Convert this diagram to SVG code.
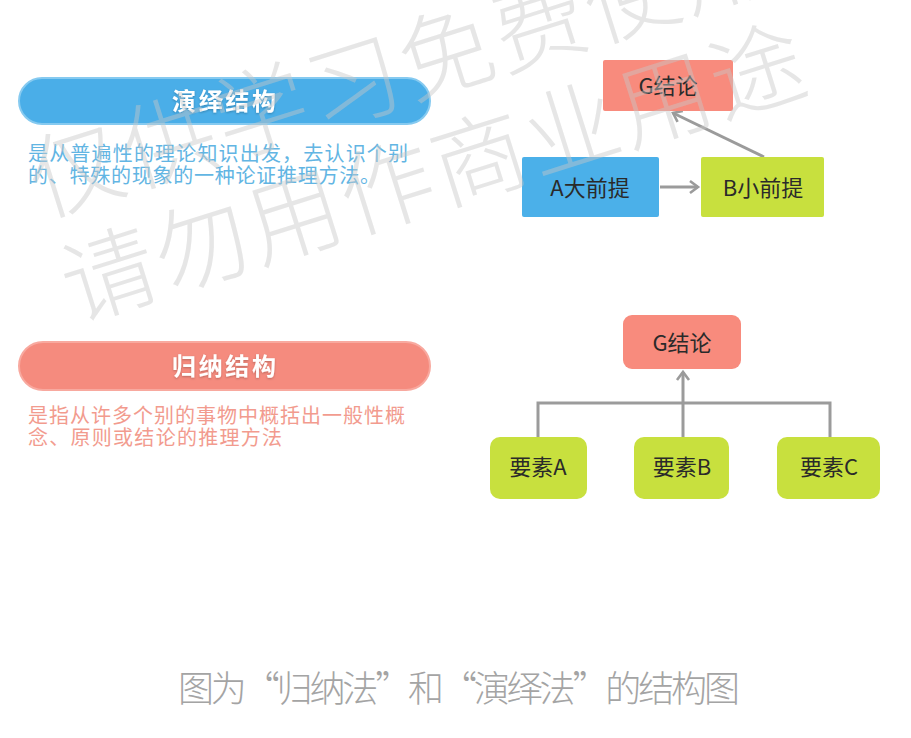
<svg xmlns="http://www.w3.org/2000/svg" width="911" height="738" viewBox="0 0 911 738">
  <defs>
    <style>
      .cjk { font-family: "Noto Sans CJK SC", "Noto Sans", "Liberation Sans", sans-serif; }
      .pill-text { font-size: 24px; font-weight: bold; fill: #ffffff; text-anchor: middle; }
      .desc { font-size: 20px; }
      .node-text { font-size: 22px; fill: #2a2a2a; text-anchor: middle; }
      .conn { fill: none; stroke: #9b9b9b; stroke-width: 3; }
      .blue { fill: #4bb0e9; }
      .salmon { fill: #f88b7d; }
      .green { fill: #c8e03e; }
      .wm { font-size: 94px; font-weight: 300; fill: #c8c8c8; fill-opacity: 0.45; letter-spacing: 3px; }
    </style>
    <marker id="chev" markerUnits="userSpaceOnUse" markerWidth="16" markerHeight="16" refX="11" refY="8" orient="auto">
      <path d="M3,2 L11,8 L3,14" fill="none" stroke="#9b9b9b" stroke-width="2.6"/>
    </marker>
    <filter id="sh" x="-10%" y="-30%" width="120%" height="160%">
      <feDropShadow dx="0" dy="1" stdDeviation="1" flood-color="#000" flood-opacity="0.25"/>
    </filter>
  </defs>

  <rect x="0" y="0" width="911" height="738" fill="#ffffff"/>

  <!-- Left: deduction header -->
  <g id="deduction-header">
    <rect x="19" y="78" width="411" height="46" rx="23" fill="#4aaee8" stroke="#86caf0" stroke-width="2"/>
    <text class="cjk pill-text" x="224" y="110" filter="url(#sh)" textLength="104">演绎结构</text>
  </g>
  <g id="deduction-desc">
    <text class="cjk desc" x="28" y="161" fill="#62b5e3" textLength="380">是从普遍性的理论知识出发，去认识个别</text>
    <text class="cjk desc" x="28" y="183" fill="#62b5e3" textLength="352">的、特殊的现象的一种论证推理方法。</text>
  </g>

  <!-- Left: induction header -->
  <g id="induction-header">
    <rect x="19" y="342" width="411" height="48" rx="24" fill="#f58b7e" stroke="#f8a99f" stroke-width="2"/>
    <text class="cjk pill-text" x="224" y="375" filter="url(#sh)" textLength="104">归纳结构</text>
  </g>
  <g id="induction-desc">
    <text class="cjk desc" x="28" y="423" fill="#f29b8e" textLength="377">是指从许多个别的事物中概括出一般性概</text>
    <text class="cjk desc" x="28" y="445" fill="#f29b8e" textLength="254">念、原则或结论的推理方法</text>
  </g>

  <!-- Connectors -->
  <g id="connectors">
    <line class="conn" x1="660" y1="187" x2="698" y2="187" marker-end="url(#chev)"/>
    <line class="conn" x1="764" y1="157" x2="673" y2="113" marker-end="url(#chev)"/>
    <path class="conn" d="M538,437 V403 H830 V437"/>
    <line class="conn" x1="683" y1="437" x2="683" y2="372" marker-end="url(#chev)"/>
  </g>

  <!-- Top-right deduction diagram -->
  <g id="ded-G">
    <rect x="603" y="60" width="130" height="51" rx="2" class="salmon"/>
    <text class="cjk node-text" x="668" y="94">G结论</text>
  </g>
  <g id="ded-A">
    <rect x="522" y="157" width="137" height="60" rx="2" class="blue"/>
    <text class="cjk node-text" x="590" y="196">A大前提</text>
  </g>
  <g id="ded-B">
    <rect x="701" y="157" width="123" height="60" rx="2" class="green"/>
    <text class="cjk node-text" x="763" y="196">B小前提</text>
  </g>

  <!-- Bottom-right induction diagram -->
  <g id="ind-G">
    <rect x="623" y="315" width="118" height="54" rx="9" class="salmon"/>
    <text class="cjk node-text" x="682" y="351">G结论</text>
  </g>
  <g id="ind-A">
    <rect x="490" y="437" width="97" height="62" rx="10" class="green"/>
    <text class="cjk node-text" x="538" y="475">要素A</text>
  </g>
  <g id="ind-B">
    <rect x="634" y="437" width="95" height="62" rx="10" class="green"/>
    <text class="cjk node-text" x="682" y="475">要素B</text>
  </g>
  <g id="ind-C">
    <rect x="777" y="437" width="103" height="62" rx="10" class="green"/>
    <text class="cjk node-text" x="829" y="475">要素C</text>
  </g>

  <!-- Caption -->
  <g id="caption">
    <text class="cjk" x="178" y="702" font-size="36" font-weight="300" fill="#a4a4a4" textLength="562">图为“归纳法”和“演绎法”的结构图</text>
  </g>

  <!-- Watermark overlay -->
  <g id="watermark" transform="translate(110,275) rotate(-17.5)">
    <text class="cjk wm" x="-48" y="-76">仅供学习免费使用</text>
    <text class="cjk wm" x="-48" y="34">请勿用作商业用途</text>
  </g>
</svg>
